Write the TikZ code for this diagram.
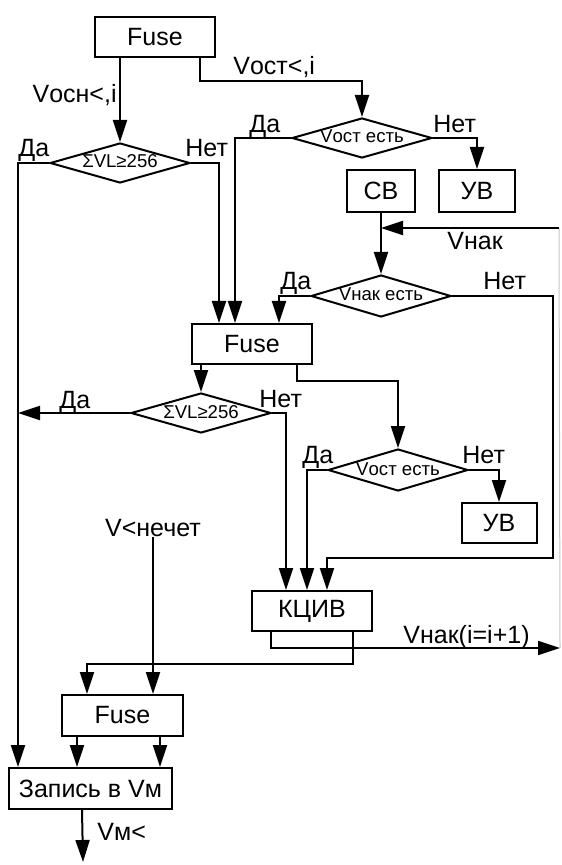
\documentclass[tikz,border=0pt]{standalone}
\usepackage{fontspec}
\setmainfont{Liberation Sans}
\usetikzlibrary{arrows.meta,shapes.geometric,calc}

\begin{document}
\begin{tikzpicture}[
  x=0.5pt,y=-0.5pt,
  >={Triangle[length=11pt,width=7pt]},
  every node/.style={font=\fontsize{12.5}{14}\selectfont,inner sep=0pt},
  block/.style={draw,line width=1pt,minimum width=60pt,minimum height=20pt,align=center},
  cond/.style={draw,line width=1pt,diamond,aspect=3.5,minimum width=70pt,minimum height=20pt,
    font=\fontsize{9.3}{10}\selectfont,text height=6pt,text depth=1pt},
  arrow/.style={->,line width=1pt},
  loopline/.style={line width=0.5pt,gray!45}
]
  \useasboundingbox (0,0) rectangle (561,865);

  \node[block] (fuseA) at (155,37) {Fuse};
  \node[cond] (decA) at (120,163) {ΣVL≥256};
  \node[cond] (decB) at (362,138) {Vост есть};
  \node[block,minimum width=34pt,minimum height=21pt] (cb) at (381,191) {СВ};
  \node[block,minimum width=38pt,minimum height=21pt] (uvA) at (477,191) {УВ};
  \node[cond,minimum height=21pt] (decC) at (381,296) {Vнак есть};
  \node[block] (fuseB) at (252,344) {Fuse};
  \node[cond] (decD) at (201,413) {ΣVL≥256};
  \node[cond,minimum height=21pt] (decE) at (398,470) {Vост есть};
  \node[block,minimum width=37.5pt] (uvB) at (499,523) {УВ};
  \node[block] (kciv) at (312,611) {КЦИВ};
  \node[anchor=base] (nechet) at (153,536) {V<нечет};
  \node[block,minimum width=60.5pt,minimum height=20.5pt] (fuseC) at (122.5,715.5) {Fuse};
  \node[block,minimum width=81.5pt,minimum height=20.5pt] (zapis) at (90.5,788.5) {Запись в Vм};

  \node[anchor=base east] (lblOsn) at (117,103) {Vосн<,i};
  \node[anchor=base west] (lblOst) at (233,75) {Vост<,i};
  \node[anchor=base west] (yesA) at (18,157) {Да};
  \node[anchor=base west] (noA) at (185,157) {Нет};
  \node[anchor=base west] (yesB) at (249,133) {Да};
  \node[anchor=base west] (noB) at (433,133) {Нет};
  \node[anchor=base west] (lblNak) at (447,250) {Vнак};
  \node[anchor=base west] (yesC) at (280,290) {Да};
  \node[anchor=base west] (noC) at (483,290) {Нет};
  \node[anchor=base west] (yesD) at (59,408) {Да};
  \node[anchor=base west] (noD) at (259,407) {Нет};
  \node[anchor=base west] (yesE) at (302,463) {Да};
  \node[anchor=base west] (noE) at (462,463) {Нет};
  \node[anchor=base west] (lblNakI) at (403,643) {Vнак(i=i+1)};
  \node[anchor=base west] (lblM) at (97,840) {Vм<};

  \coordinate (leftx) at (18,0);
  \coordinate (jA) at (362,81);
  \coordinate (loopT) at (559,228);
  \coordinate (loopB) at (560,648);
  \coordinate (rtC) at (553,558);
  \coordinate (jB) at (398,381);
  \coordinate (jK) at (87,664);
  \coordinate (outC1) at ($(fuseC.south west)+(16,0)$);
  \coordinate (outC2) at ($(fuseC.south east)+(-24,0)$);
  \coordinate (outZ) at (83,862);

  \draw[arrow] (decA.north |- fuseA.south) -- (decA.north);
  \draw[arrow] ($(fuseA.south east)+(-16,0)$) |- (jA) -- (decB.north);
  \draw[arrow] (decA.west) -| (leftx |- zapis.north);
  \draw[arrow] (decA.east) -| ($(fuseB.north west)+(28,0)$);
  \draw[arrow] (decB.west) -| ($(fuseB.north west)+(44,0)$);
  \draw[arrow] (decB.east) -| (uvA.north);
  \draw[arrow] (cb.south) -- (decC.north);
  \draw[loopline] (loopB) -- (loopT);
  \draw[arrow] (loopT) -- (cb.south |- loopT);
  \draw[arrow] (decC.west) -| ($(fuseB.north west)+(88,0)$);
  \draw[arrow] (decC.east) -| (rtC) -| ($(kciv.north west)+(76,0)$);
  \draw[arrow] (decD.north |- fuseB.south) -- (decD.north);
  \draw[arrow] ($(fuseB.south east)+(-16,0)$) |- (jB) -- (decE.north);
  \draw[arrow] (decD.west) -- (leftx |- decD.west);
  \draw[arrow] (decD.east) -| ($(kciv.north west)+(35,0)$);
  \draw[arrow] (decE.west) -| ($(kciv.north west)+(56,0)$);
  \draw[arrow] (decE.east) -| (uvB.north);
  \draw[arrow] ($(kciv.south west)+(20,0)$) |- (loopB);
  \draw[arrow] ($(kciv.south east)+(-20,0)$) |- (jK) -- (jK |- fuseC.north);
  \draw[arrow] (nechet.south) -- (nechet.south |- fuseC.north);
  \draw[arrow] (outC1) -- (outC1 |- zapis.north);
  \draw[arrow] (outC2) -- (outC2 |- zapis.north);
  \draw[arrow] ($(zapis.south west)+(74,0)$) -- (outZ);
\end{tikzpicture}
\end{document}
